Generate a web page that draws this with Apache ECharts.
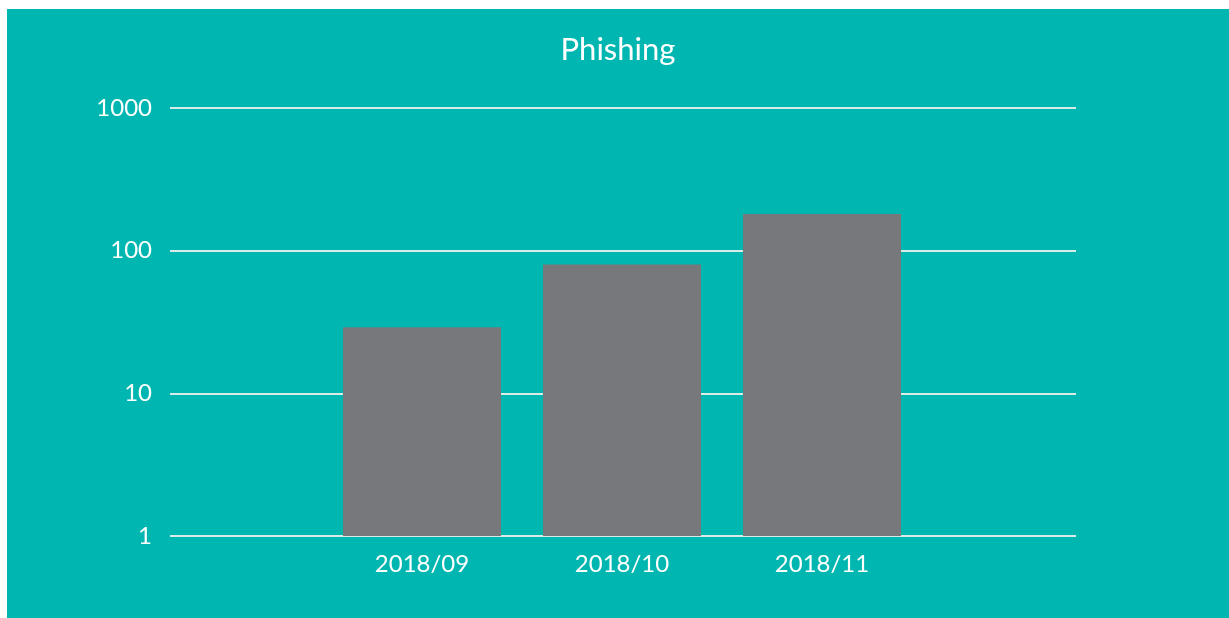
<!DOCTYPE html>
<html>
<head>
<meta charset="utf-8">
<script src="https://cdn.jsdelivr.net/npm/echarts@6/dist/echarts.min.js"></script>
<style>
  html, body { margin: 0; padding: 0; background: #ffffff; width: 1229px; height: 618px; overflow: hidden; }
  #chart { position: absolute; left: 7px; top: 9px; width: 1222px; height: 609px; }
</style>
</head>
<body>
<div id="chart"></div>
<script>
// Monthly phishing counts (log scale)
const months = ['2018/09', '2018/10', '2018/11'];
const phishing = [29, 80, 181];
const yTicks = [1, 10, 100, 1000];

const teal = '#00b6b0';
const barGray = '#77787b';
const gridWhite = '#d8ebe9';
const font = 'Lato, "Open Sans", sans-serif';

const chart = echarts.init(document.getElementById('chart'), null, { renderer: 'canvas' });

// Shared log scale used by both grids
const logAxis = {
  type: 'log',
  logBase: 10,
  min: yTicks[0],
  max: yTicks[yTicks.length - 1]
};

chart.setOption({
  backgroundColor: teal,
  animation: false,
  title: {
    text: 'Phishing',
    left: 'center',
    top: 20,
    textStyle: { color: '#ffffff', fontFamily: font, fontWeight: 'normal', fontSize: 31 }
  },
  grid: [
    // full-width grid carrying the value axis and its grid lines
    { left: 163, right: 153, top: 99, bottom: 82 },
    // inner grid holding the month bars
    { left: 315, right: 307, top: 99, bottom: 82 }
  ],
  xAxis: [
    { type: 'category', gridIndex: 0, data: months, show: false },
    {
      type: 'category',
      gridIndex: 1,
      data: months,
      axisLine: { show: false },
      axisTick: { show: false },
      axisLabel: { color: '#ffffff', fontFamily: font, fontSize: 24, margin: 16 }
    }
  ],
  yAxis: [
    Object.assign({}, logAxis, {
      gridIndex: 0,
      axisLine: { show: false },
      axisTick: { show: false },
      axisLabel: {
        color: '#ffffff',
        fontFamily: font,
        fontSize: 24,
        margin: 18,
        formatter: v => String(Math.round(v))
      },
      splitLine: { show: true, lineStyle: { color: gridWhite, width: 2 } }
    }),
    Object.assign({}, logAxis, {
      gridIndex: 1,
      show: false,
      splitLine: { show: false }
    })
  ],
  series: [
    {
      type: 'bar',
      name: 'Phishing',
      xAxisIndex: 1,
      yAxisIndex: 1,
      data: phishing,
      barWidth: 158,
      itemStyle: { color: barGray },
      z: 3
    }
  ]
});
</script>
</body>
</html>
